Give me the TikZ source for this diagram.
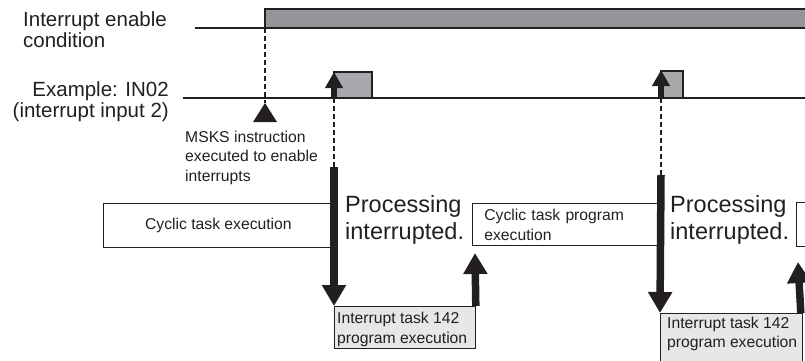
\documentclass[tikz,border=0pt]{standalone}
\usepackage{fontspec}
\setmainfont{Liberation Sans}
\usetikzlibrary{arrows.meta}
\definecolor{inkc}{HTML}{231F20}
\definecolor{enablefill}{HTML}{939598}
\definecolor{pulsefill}{HTML}{A7A9AC}
\definecolor{taskfill}{HTML}{E6E7E8}
\begin{document}
\begin{tikzpicture}[x=1pt,y=-1pt,
  bigtxt/.style={font=\fontsize{20.5}{21}\selectfont, inner sep=0pt, align=left, text=inkc},
  proctxt/.style={font=\fontsize{23.5}{27}\selectfont, inner sep=0pt, align=left, text=inkc},
  smalltxt/.style={font=\fontsize{15.7}{19.5}\selectfont, inner sep=0pt, align=left, text=inkc},
  sigline/.style={draw=inkc, line width=1.1pt},
  dashline/.style={draw=inkc, line width=1.7pt, dash pattern=on 5pt off 3pt},
  pulsearrow/.style={draw=inkc, line width=6pt, -{Triangle[width=17pt,length=16pt]}},
  bigarrow/.style={draw=inkc, fill=inkc, line width=7.5pt, -{Triangle[width=23pt,length=21pt]}},
  cycbox/.style={draw=inkc, line width=0.8pt, rectangle, anchor=north west, text=inkc,
    font=\fontsize{15.7}{20}\selectfont},
  taskbox/.style={draw=inkc, line width=0.8pt, fill=taskfill, rectangle, anchor=north west, inner sep=0pt}
]
\useasboundingbox (0,0) rectangle (805,360);
\clip (0,0) rectangle (805,360);

% labels
\node[bigtxt, anchor=base west] (lblenable) at (23,47) {Interrupt enable\\condition};
\node[bigtxt, align=right, anchor=base east, font=\fontsize{20.5}{18.5}\selectfont] (lblin) at (169,117) {Example: IN02\\(interrupt input 2)};

% interrupt enable signal
\coordinate (enstart) at (195,28);
\coordinate (enedge) at (265,28);
\draw[sigline, fill=enablefill] (enedge) -- (265,9) -- (810,9) -- (810,28) -- cycle;
\draw[sigline, line width=1.8pt] (265,9) -- (810,9);
\draw[sigline] (enstart) -- (enedge);

% IN02 signal
\coordinate (instart) at (183,98);
\coordinate (inend) at (810,98);
\draw[sigline, fill=pulsefill] (334,98) rectangle (372,72);
\draw[sigline, line width=1.8pt] (334,72) -- (372,72);
\draw[sigline, fill=pulsefill] (661,98) rectangle (683,71);
\draw[sigline, line width=1.8pt] (661,71) -- (683,71);
\draw[sigline] (instart) -- (inend);

% MSKS marker
\coordinate (msksapex) at (265,103);
\draw[dashline] (enedge) -- (msksapex);
\fill[inkc] (msksapex) -- (253,122) -- (277,122) -- cycle;
\node[smalltxt, anchor=base west] (msks) at (185,181) {MSKS instruction\\executed to enable\\interrupts};

% pulse arrows
\coordinate (p1base) at (334,98);
\coordinate (p1tip) at (334,72);
\coordinate (p2base) at (661,98);
\coordinate (p2tip) at (661,70);
\draw[pulsearrow] (p1base) -- (p1tip);
\draw[pulsearrow] (p2base) -- (p2tip);

% task boxes
\node[cycbox, minimum width=230pt, minimum height=44pt, inner sep=0pt] (cyc1) at (103,203) {Cyclic task execution};
\node[cycbox, text width=161pt, inner xsep=12pt, inner ysep=0pt, minimum height=42pt, align=left] (cyc2) at (472,203) {Cyclic task program\\execution};
\node[cycbox, minimum width=40pt, minimum height=44pt] (cyc3) at (796,202) {};

\node[taskbox, minimum width=141pt, minimum height=42pt] (taskA) at (334,306) {};
\node[smalltxt, anchor=base west, font=\fontsize{15.7}{20}\selectfont] (taskAtxt) at (337,343) {Interrupt task 142\\program execution};
\node[taskbox, minimum width=142pt, minimum height=52pt] (taskB) at (660,313) {};
\node[smalltxt, anchor=base west, font=\fontsize{15.7}{18.5}\selectfont] (taskBtxt) at (667,347) {Interrupt task 142\\program execution};

% processing interrupted labels
\node[proctxt, anchor=base west] (proc1) at (345,239) {Processing\\interrupted.};
\node[proctxt, anchor=base west] (proc2) at (670,239) {Processing\\interrupted.};

% dashed drops and thick arrows
\coordinate (d1top) at (334,167);
\coordinate (d2top) at (661,175);
\draw[dashline] (p1base) -- (d1top);
\draw[dashline] (p2base) -- (d2top);
\draw[bigarrow] (d1top) -- (taskA.north west);
\draw[bigarrow] (d2top) -- (taskB.north west);
\coordinate (r1tip) at (475,253);
\coordinate (r2tip) at (800,262);
\draw[bigarrow] (taskA.north east) -- (r1tip);
\draw[bigarrow] ([xshift=-2pt]taskB.north east) -- ([xshift=-2pt]r2tip);
\end{tikzpicture}
\end{document}
